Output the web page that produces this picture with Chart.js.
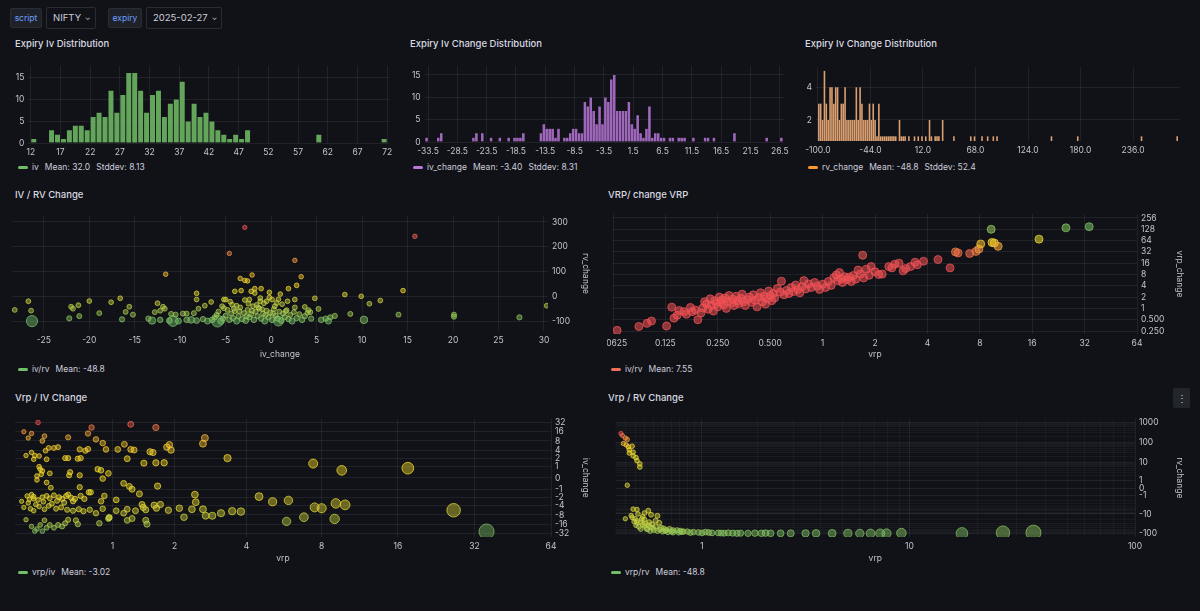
<!DOCTYPE html>
<html>
<head>
<meta charset="utf-8">
<script src="https://cdn.jsdelivr.net/npm/chart.js@4.4.1/dist/chart.umd.min.js"></script>
<style>
  html, body { margin: 0; padding: 0; background: #111217; }
  body { width: 1200px; height: 611px; overflow: hidden; position: relative; font-family: Inter, "Noto Sans", sans-serif; color: #ccccdc; }
  .title { position: absolute; font-size: 9.5px; line-height: 12px; font-weight: 500; color: #d8d9e0; white-space: nowrap; }
  .cv { position: absolute; }
  .legend { position: absolute; height: 12px; font-size: 8.5px; line-height: 12px; color: #ccccdc; white-space: nowrap; display: flex; align-items: center; }
  .legend i { display: inline-block; width: 10px; height: 3px; border-radius: 2px; margin-right: 4px; }
  .legend span { margin-right: 6px; }
  .lbl, .sel { position: absolute; box-sizing: border-box; border-radius: 2px; white-space: nowrap; }
  .lbl { top: 8px; height: 20px; line-height: 18px; font-size: 8.5px; color: #6e9fff; background: #1f2128; border: 1px solid #2a2c33; text-align: center; }
  .sel { top: 7px; height: 22px; line-height: 20px; font-size: 9.5px; color: #ccccdc; border: 1px solid #2a2c33; padding-left: 6px; }
  .sel b { font-weight: 400; font-size: 7px; margin-left: 4px; position: relative; top: -1px; }
  .menu { position: absolute; left: 1173px; top: 388px; width: 17px; height: 20px; background: #22252b; border-radius: 2px; color: #ccccdc; font-size: 10px; line-height: 20px; text-align: center; }
</style>
</head>
<body>

<div class="lbl" style="left:10px;width:32px;">script</div>
<div class="sel" style="left:46px;width:50px;">NIFTY<b>&#8964;</b></div>
<div class="lbl" style="left:108px;width:34px;">expiry</div>
<div class="sel" style="left:146px;width:76px;">2025-02-27<b>&#8964;</b></div>

<div class="title" style="left:15px;top:38px;">Expiry Iv Distribution</div>
<div class="title" style="left:410px;top:38px;">Expiry Iv Change Distribution</div>
<div class="title" style="left:805px;top:38px;">Expiry Iv Change Distribution</div>
<div class="title" style="left:15px;top:189px;">IV / RV Change</div>
<div class="title" style="left:608px;top:189px;">VRP/ change VRP</div>
<div class="title" style="left:15px;top:392px;">Vrp / IV Change</div>
<div class="title" style="left:608px;top:392px;">Vrp / RV Change</div>
<div class="menu">&#8942;</div>

<div class="cv" style="left:8px;top:58px;width:392px;height:102px;"><canvas id="h1"></canvas></div>
<div class="cv" style="left:403px;top:58px;width:392px;height:102px;"><canvas id="h2"></canvas></div>
<div class="cv" style="left:798px;top:58px;width:394px;height:102px;"><canvas id="h3"></canvas></div>
<div class="cv" style="left:4px;top:208px;width:594px;height:154px;"><canvas id="s1"></canvas></div>
<div class="cv" style="left:607px;top:208px;width:585px;height:154px;"><canvas id="s2"></canvas></div>
<div class="cv" style="left:4px;top:410px;width:594px;height:156px;"><canvas id="s3"></canvas></div>
<div class="cv" style="left:607px;top:410px;width:585px;height:156px;"><canvas id="s4"></canvas></div>

<div class="legend" style="left:18px;top:161px;"><i style="background:#73BF69"></i><span>iv</span><span>Mean: 32.0</span><span>Stddev: 8.13</span></div>
<div class="legend" style="left:413px;top:161px;"><i style="background:#B877D9"></i><span>iv_change</span><span>Mean: -3.40</span><span>Stddev: 8.31</span></div>
<div class="legend" style="left:808px;top:161px;"><i style="background:#FF9830"></i><span>rv_change</span><span>Mean: -48.8</span><span>Stddev: 52.4</span></div>
<div class="legend" style="left:18px;top:363px;"><i style="background:#73BF69"></i><span>iv/rv</span><span>Mean: -48.8</span></div>
<div class="legend" style="left:611px;top:363px;"><i style="background:#F2705A"></i><span>iv/rv</span><span>Mean: 7.55</span></div>
<div class="legend" style="left:18px;top:566px;"><i style="background:#73BF69"></i><span>vrp/iv</span><span>Mean: -3.02</span></div>
<div class="legend" style="left:611px;top:566px;"><i style="background:#73BF69"></i><span>vrp/rv</span><span>Mean: -48.8</span></div>

<script>
// ---- data: histograms (bin start, count) ----
const ivBins = [12, 15, 16, 17, 18, 19, 20, 21, 22, 23, 24, 25, 26, 27, 28, 29, 30, 31, 32, 33, 34, 35, 36, 37, 38, 39, 40, 41, 42, 43, 44, 45, 46, 47, 48, 60, 71];
const ivCounts = [1, 3, 2, 1, 3, 4, 4, 3, 6, 7, 6, 12, 7, 11, 16, 16, 12, 7, 11, 12, 6, 9, 10, 14, 5, 9, 6, 7, 5, 3, 2, 1, 2, 1, 3, 2, 1];
const ivTicks = [12, 17, 22, 27, 32, 37, 42, 47, 52, 57, 62, 67, 72];

const ivChgBins = [-34, -32, -31.5, -26, -25.5, -24.5, -23, -21.5, -20, -19, -18.5, -18, -17.5, -14.5, -14, -13.5, -13, -12.5, -12, -11.5, -10.5, -10, -9.5, -9, -8.5, -8, -7.5, -7, -6.5, -6, -5.5, -5, -4.5, -4, -3.5, -3, -2.5, -2, -1.5, -1, -0.5, 0, 0.5, 1, 1.5, 2, 2.5, 3, 3.5, 4, 4.5, 5, 5.5, 6, 6.5, 7.5, 8, 9, 9.5, 10, 11.5, 13.5, 14, 15, 18.5, 24, 26.5];
const ivChgCounts = [1, 1, 2, 1, 2, 2, 1, 1, 1, 1, 1, 1, 2, 2, 4, 3, 3, 3, 1, 3, 1, 1, 2, 3, 3, 2, 2, 9, 8, 10, 7, 4, 8, 4, 10, 9, 14, 15, 7, 7, 7, 7, 9, 4, 3, 6, 2, 1, 3, 8, 1, 2, 2, 1, 1, 1, 1, 1, 1, 1, 1, 1, 1, 1, 2, 1, 1];
const ivChgTicks = [-33.5, -28.5, -23.5, -18.5, -13.5, -8.5, -3.5, 1.5, 6.5, 11.5, 16.5, 21.5, 26.5];

const rvChgBins = [-100, -98, -96, -94, -92, -90, -88, -86, -84, -82, -80, -78, -76, -74, -72, -70, -68, -66, -64, -62, -60, -58, -56, -54, -52, -50, -48, -46, -44, -42, -40, -38, -36, -34, -32, -30, -28, -26, -24, -22, -20, -18, -14, -12, -10, -8, -4, 2, 6, 10, 14, 18, 20, 24, 26, 28, 32, 44, 62, 66, 74, 80, 86, 90, 148, 176, 244, 282];
const rvChgCounts = [3, 3, 2, 5, 3, 2, 4, 4, 3, 4, 4, 2, 3, 3, 4, 2, 2, 2, 2, 2, 4, 2, 4, 3, 2, 2, 2, 3, 2, 3, 2, 1, 3, 1, 1, 1, 1, 1, 1, 1, 1, 1, 2, 1, 1, 1, 1, 1, 1, 1, 1, 2, 1, 1, 1, 1, 2, 1, 1, 1, 1, 1, 1, 1, 1, 1, 1, 1];
const rvChgTicks = [-100, -44, 12, 68, 124, 180, 236];

// ---- data: IV / RV change  [iv_change, rv_change, vrp] ----
const ivRvPoints = [
  [-2.9, 278, 0.3], [15.8, 242, 0.4], [-4.6, 173, 0.4], [2.6, 145, 0.4], [-11.6, 89, 0.5], [-2.1, 86, 0.5],
  [3.3, 79, 0.5], [-3.4, 72, 0.5], [-2.9, 64, 0.5], [-2.6, 62, 0.5], [-8.2, 12, 0.6], [-8.2, -13, 0.6],
  [-4.0, 20, 0.6], [-3.3, 23, 0.6], [-2.2, 20, 0.6], [-1.8, 31, 0.6], [-1.1, 31, 0.6], [-1.8, 13, 0.6],
  [-0.2, 16, 0.6], [1.0, 9, 0.6], [1.9, 31, 0.6], [2.8, 44, 0.6], [8.1, 7, 0.6], [9.9, 0, 0.6],
  [14.5, 23, 0.6], [4.8, -8, 0.7], [10.8, -30, 0.7], [12.0, -17, 0.7], [30.3, -38, 0.7], [-28.2, -55, 0.8],
  [-26.7, -20, 0.7], [-26.4, -58, 0.8], [-22.2, -89, 1.2], [-22.0, -42, 0.8], [-21.8, -50, 0.8], [-21.2, -36, 0.8],
  [-21.1, -80, 1], [-20.0, -19, 0.7], [-18.9, -68, 0.9], [-17.6, -24, 0.7], [-16.6, -8, 0.7], [-16.4, -93, 1.5],
  [-16.0, -63, 0.9], [-15.6, -42, 0.8], [-15.2, -74, 1], [-12.5, -28, 0.8], [-11.9, -42, 0.8], [-11.7, -50, 0.8],
  [-12.8, -64, 0.9], [-12.2, -58, 0.9], [-11.0, -71, 1], [-10.5, -74, 1], [-9.7, -70, 1], [-9.3, -70, 1],
  [-8.5, -68, 1], [-8.0, -50, 0.8], [-7.3, -38, 0.8], [-6.6, -23, 0.7], [-5.2, -13, 0.7], [-5.0, -13, 0.7],
  [-5.4, -40, 0.8], [-4.3, -34, 0.8], [-2.4, -13, 0.7], [-1.2, -7, 0.7], [-0.5, -20, 0.7], [0.1, -13, 0.7],
  [0.6, -27, 0.8], [1.8, -20, 0.7], [2.6, -13, 0.7], [3.7, -43, 0.8], [4.1, -56, 0.9], [4.3, -64, 0.9],
  [5.2, -51, 0.9], [6.5, -85, 1.3], [7.0, -79, 1.2], [8.7, -71, 1], [14.0, -74, 1], [20.1, -74, 1],
  [20.1, -82, 1.2], [27.3, -85, 1.3], [-26.3, -100, 30], [-10.8, -100, 25], [-5.9, -100, 35], [0.8, -100, 20],
  [10.2, -95, 8], [-8.8, -95, 5], [-13.1, -98, 7],
  [-6.5, -95, 2], [-6.2, -85, 1.3], [-6.0, -75, 1], [-5.8, -62, 0.9], [-5.5, -100, 4], [-5.3, -90, 1.5],
  [-5.0, -78, 1.1], [-4.8, -55, 0.9], [-4.6, -95, 2], [-4.4, -70, 1], [-4.2, -88, 1.4], [-4.0, -60, 0.9],
  [-3.8, -100, 3], [-3.6, -80, 1.2], [-3.4, -45, 0.8], [-3.2, -92, 1.6], [-3.0, -68, 1], [-2.8, -98, 2.5],
  [-2.6, -55, 0.9], [-2.4, -85, 1.3], [-2.2, -72, 1], [-2.0, -40, 0.8], [-1.9, -95, 2], [-1.7, -62, 0.9],
  [-1.5, -80, 1.2], [-1.3, -50, 0.8], [-1.1, -90, 1.5], [-0.9, -70, 1], [-0.7, -100, 3], [-0.5, -58, 0.9],
  [-0.3, -85, 1.3], [-0.1, -66, 1], [0.1, -95, 2], [0.3, -52, 0.9], [0.5, -78, 1.1], [0.7, -90, 1.5],
  [0.9, -62, 0.9], [1.1, -98, 2.5], [1.3, -70, 1], [1.5, -84, 1.3], [1.7, -56, 0.9], [1.9, -92, 1.6],
  [2.1, -75, 1], [2.3, -100, 3], [2.5, -64, 0.9], [2.8, -88, 1.4], [3.1, -72, 1], [3.4, -95, 2],
  [3.7, -80, 1.2], [4.0, -66, 1], [4.4, -90, 1.5], [-7.0, -100, 3], [-7.5, -92, 1.6], [-8.2, -98, 2.5],
  [-9.3, -95, 2], [-10.2, -100, 3], [-12.2, -95, 2], [-13.5, -90, 1.5], [-11.2, -98, 2.5], [5.5, -95, 2],
  [6.0, -90, 1.5], [6.3, -100, 3], [-2.5, -30, 0.8], [-1.6, -35, 0.8], [-0.8, -28, 0.8], [0.4, -40, 0.8],
  [1.2, -32, 0.8], [-3.8, -38, 0.8], [-5.2, -48, 0.8], [-4.5, -22, 0.7], [-2.9, -15, 0.7], [-1.2, -20, 0.7],
  [-0.2, -5, 0.7], [0.8, -12, 0.7], [-3.5, -60, 0.9], [-1.4, -45, 0.8], [-2.1, -58, 0.9], [-0.6, -75, 1],
  [2.6, -45, 0.8], [-1.0, -52, 0.9], [-2.7, -80, 1.2], [-4.1, -50, 0.8], [0.2, -70, 1], [1.6, -60, 0.9]
];
const ivRvTicksX = [-25, -20, -15, -10, -5, 0, 5, 10, 15, 20, 25, 30];
const ivRvTicksY = [-100, 0, 100, 200, 300];

// ---- data: VRP / change VRP  [vrp, vrp_change] ----
const vrpPoints = [
  [0.066, 0.26], [0.088, 0.33], [0.098, 0.4], [0.104, 0.46], [0.127, 0.34], [0.136, 1.08], [0.14, 0.55], [0.146, 0.66],
  [0.15, 0.88], [0.16, 0.82], [0.165, 0.7], [0.174, 1.06], [0.178, 0.82], [0.186, 0.9], [0.192, 0.5], [0.2, 0.75],
  [0.205, 1.02], [0.21, 1.5], [0.215, 1.3], [0.22, 0.95], [0.226, 1.8], [0.23, 1.2], [0.236, 0.85], [0.24, 1.6],
  [0.245, 1.35], [0.25, 1.1], [0.255, 2.0], [0.26, 1.45], [0.265, 1.7], [0.27, 1.25], [0.275, 1.9], [0.28, 1.0],
  [0.285, 1.55], [0.29, 2.2], [0.3, 1.4], [0.305, 1.75], [0.31, 1.2], [0.318, 2.1], [0.325, 1.6], [0.33, 1.35],
  [0.34, 1.85], [0.345, 2.4], [0.35, 1.5], [0.36, 1.2], [0.37, 1.7], [0.38, 2.0], [0.39, 1.45], [0.4, 2.3],
  [0.41, 1.65], [0.42, 1.1], [0.43, 1.95], [0.44, 2.6], [0.45, 1.5], [0.46, 2.1], [0.47, 1.3], [0.48, 1.8],
  [0.49, 2.9], [0.5, 2.2], [0.51, 1.6], [0.52, 2.5], [0.53, 1.9], [0.55, 3.4], [0.57, 2.7], [0.58, 5.3],
  [0.6, 2.3], [0.62, 3.0], [0.64, 2.5], [0.66, 3.6], [0.68, 2.8], [0.7, 4.2], [0.72, 3.2], [0.74, 2.6],
  [0.76, 3.8], [0.78, 5.5], [0.8, 3.3], [0.83, 4.5], [0.86, 3.6], [0.9, 4.9], [0.93, 3.9], [0.96, 3.2],
  [1.0, 4.4], [1.04, 3.6], [1.08, 5.2], [1.12, 4.1], [1.16, 6.6], [1.2, 7.8], [1.22, 5.5], [1.25, 9.0],
  [1.28, 6.2], [1.3, 4.9], [1.34, 7.0], [1.38, 5.8], [1.42, 6.8], [1.46, 5.2], [1.5, 7.5], [1.55, 6.0],
  [1.6, 10.5], [1.65, 8.2], [1.7, 26], [1.72, 6.5], [1.78, 11], [1.85, 7.6], [1.9, 13], [2.0, 9.5],
  [2.1, 8.0], [2.2, 8.2], [2.4, 13], [2.5, 12], [2.6, 15], [2.75, 16], [2.9, 10], [3.0, 11.5],
  [3.2, 13], [3.4, 17], [3.5, 14.5], [3.8, 18], [4.6, 20], [5.4, 12], [5.8, 32], [6.0, 30],
  [7.0, 29], [7.6, 33], [7.9, 38], [8.1, 52], [9.3, 128], [9.4, 57], [9.7, 55], [10.2, 45],
  [17.5, 70], [25, 140], [34, 150]
];
const vrpTicksX = [0.0625, 0.125, 0.25, 0.5, 1, 2, 4, 8, 16, 32, 64];
const vrpTicksY = [0.25, 0.5, 1, 2, 4, 8, 16, 32, 64, 128, 256];

// ---- data: Vrp / IV change  [vrp, iv_change] ----
const vrpIvPoints = [
  [0.21, 32], [1.25, 28], [0.75, 22], [1.65, 22], [0.08, 16], [0.15, 14], [0.71, 14], [0.27, 11.5],
  [0.12, 10], [0.5, 10.5], [0.8, 9], [0.88, 6.8], [0.25, 8], [2.7, 10], [2.65, 6.5], [1.16, 6.2],
  [1.85, 5], [1.9, 6], [1.93, 4], [0.92, 4.2], [1.07, 4.2], [1.25, 4.2], [1.3, 4], [1.55, 3.5],
  [1.6, 3.3], [0.68, 3.8], [0.71, 4.3], [0.62, 4.2], [0.4, 5], [0.36, 4.7], [0.31, 4.7], [0.28, 3.8],
  [0.15, 3.3], [0.1, 2.6], [0.18, 2.6], [0.22, 2.5], [0.17, 1.9], [0.29, 1.9], [0.47, 2.1], [0.5, 2.1],
  [0.6, 2], [0.63, 2.1], [1.2, 2], [1.45, 1.35], [1.65, 1.4], [1.8, 1.4], [3.35, 2.1], [7.4, 1.3],
  [9.6, 0.6], [17.5, 0.8], [0.22, 0.95], [0.23, 0.7], [0.25, 0.55], [0.32, 0.35], [0.24, 0.28], [0.2, 0.15],
  [0.51, 0.2], [0.62, 0.2], [0.82, 0.7], [0.86, 0.6], [0.95, 0.35], [0.88, -0.05], [0.52, 0.45], [0.2, -0.15],
  [0.29, -0.35], [0.33, -0.8], [0.62, -0.75], [1.15, -0.42], [1.23, -0.68], [1.27, -0.95], [1.38, -1.5], [1.68, -0.65],
  [0.72, -1.3], [0.74, -1.3], [0.9, -1.8], [1.05, -2.5], [0.86, -2.8], [2.45, -1.6], [2.47, -3], [4.5, -1.9],
  [5.1, -2.9], [5.9, -2.6], [7.5, -4.5], [8, -4.8], [9.1, -3.3], [9.9, -3.7], [26.5, -5.6], [9, -10.8],
  [5.8, -13], [6.8, -9.5], [35.7, -28], [0.06, -2.8], [0.11, -1.8], [0.15, -1.6], [0.17, -1.9], [0.17, -2.3],
  [0.21, -2.5], [0.25, -2], [0.29, -1.8], [0.32, -2.2], [0.36, -1.7], [0.41, -2], [0.44, -2.3], [0.48, -1.8],
  [0.5, -1.6], [0.53, -2.1], [0.57, -2.3], [0.63, -1.8], [0.67, -2.3], [0.08, -4.5], [0.14, -5], [0.17, -5.8],
  [0.22, -4.2], [0.27, -5.2], [0.31, -4], [0.38, -5], [0.43, -4.5], [0.49, -5.4], [0.55, -5.8], [0.61, -5.2],
  [0.66, -6], [0.73, -5.4], [0.8, -7], [0.88, -5], [0.96, -9.5], [1.05, -5.8], [1.15, -7], [1.2, -5.2],
  [1.32, -5.8], [1.42, -3.6], [1.44, -4.5], [1.48, -5.4], [1.62, -3.8], [1.66, -4.8], [1.73, -3.6], [1.88, -5.6],
  [2.1, -4.8], [2.2, -9.5], [2.38, -5.2], [2.65, -5.2], [2.72, -8.5], [2.9, -8.5], [3.15, -7], [3.5, -6],
  [3.8, -6.2], [1.48, -12], [1.5, -16], [1.2, -12], [1.27, -10.5], [0.84, -15], [0.95, -10.5], [0.96, -10],
  [0.58, -12], [0.5, -11.5], [0.47, -15], [0.4, -17], [0.36, -21], [0.29, -21], [0.23, -17], [0.2, -23],
  [0.15, -19], [0.1, -11.5], [0.27, -12], [0.32, -17], [0.44, -19], [0.6, -16], [0.18, -27], [0.25, -27],
  [0.12, -3.2], [0.19, -3.6], [0.26, -2.9], [0.34, -3.4], [0.39, -2.7], [0.46, -3.1], [0.55, -2.8], [0.13, -2.4]
];
const vrpIvTicksX = [1, 2, 4, 8, 16, 32, 64];
const vrpIvTicksY = [-32, -16, -8, -4, -2, -1, 0, 1, 2, 4, 8, 16, 32];

// ---- data: Vrp / RV change  [vrp, rv_change] ----
const vrpRvPoints = [
  [0.055, 280], [0.07, 220], [0.1, 165], [0.12, 140], [0.08, 88], [0.11, 74], [0.13, 60], [0.17, 64],
  [0.14, 42], [0.14, 29], [0.18, 32], [0.18, 21], [0.21, 17], [0.22, 12], [0.25, 8.3], [0.25, 5.7],
  [0.12, 0.34], [0.18, -5.7], [0.22, -6], [0.34, -6.8], [0.16, -12], [0.17, -15], [0.2, -17.5], [0.22, -22],
  [0.22, -28], [0.26, -26], [0.28, -34], [0.3, -19], [0.34, -37], [0.36, -45], [0.38, -33], [0.42, -43],
  [0.46, -28], [0.48, -50], [0.51, -54], [0.54, -64], [0.58, -58], [0.62, -67], [0.67, -67], [0.71, -72],
  [0.75, -77], [0.8, -77], [0.88, -82], [0.95, -85], [1.05, -82], [1.15, -90], [1.25, -90], [1.35, -93],
  [1.5, -93], [1.65, -93], [1.8, -95], [2.1, -95], [2.33, -95], [2.6, -95], [2.9, -95], [3.4, -95],
  [3.8, -95], [4.5, -95], [5.3, -95], [6.0, -96], [6.7, -96], [7.4, -96], [7.9, -96], [9.2, -92],
  [17.1, -96], [26, -88], [35.5, -88], [0.3, -9], [0.37, -11], [0.44, -12.5], [0.1, -17.5], [0.28, -14],
  [0.23, -10], [0.32, -54], [0.4, -64], [0.26, -58], [0.36, -72], [0.44, -72], [0.5, -77], [0.56, -82],
  [0.62, -85], [0.69, -85], [0.21, -37], [0.42, -22], [0.24, -45], [0.3, -40], [0.33, -60], [0.39, -50],
  [0.47, -62], [0.53, -70], [0.6, -75], [0.73, -80], [0.84, -88], [1.0, -90], [1.1, -86], [1.3, -92],
  [1.42, -90], [1.58, -95], [1.95, -93], [2.2, -92], [0.19, -24], [0.27, -18], [0.35, -26], [0.31, -30]
];
const vrpRvTicksX = [1, 10, 100];
const vrpRvMinorX = [0.1, 0.2, 0.3, 0.4, 0.5, 0.6, 0.7, 0.8, 0.9, 2, 3, 4, 5, 6, 7, 8, 9, 20, 30, 40, 50, 60, 70, 80, 90];
const vrpRvTicksY = [-100, -10, -1, 0, 1, 10, 100, 1000];
const vrpRvMinorY = [-90, -80, -70, -60, -50, -40, -30, -20, -9, -8, -7, -6, -5, -4, -3, -2, 2, 3, 4, 5, 6, 7, 8, 9, 20, 30, 40, 50, 60, 70, 80, 90, 200, 300, 400, 500, 600, 700, 800, 900];

// ---- symmetric log (asinh) scale, like the dashboard's symlog axes ----
class AsinhScale extends Chart.Scale {
  parse(raw) { return raw === null || raw === undefined ? null : +raw; }
  determineDataLimits() {
    const mm = this.getMinMax(true);
    this.min = this.options.min != null ? this.options.min : mm.min;
    this.max = this.options.max != null ? this.options.max : mm.max;
  }
  tf(v) { return Math.asinh(v) / Math.log(this.options.base || 10); }
  itf(t) { return Math.sinh(t * Math.log(this.options.base || 10)); }
  buildTicks() { return []; }
  configure() {
    super.configure();
    this._tMin = this.tf(this.min);
    this._tMax = this.tf(this.max);
  }
  getLabelForValue(v) { return String(v); }
  getPixelForValue(v) {
    return this.getPixelForDecimal((this.tf(v) - this._tMin) / (this._tMax - this._tMin));
  }
  getValueForPixel(p) {
    return this.itf(this._tMin + this.getDecimalForPixel(p) * (this._tMax - this._tMin));
  }
}
AsinhScale.id = 'asinh';
AsinhScale.defaults = {};
Chart.register(AsinhScale);

Chart.defaults.font.family = 'Inter, "Noto Sans", sans-serif';
Chart.defaults.font.size = 8.5;
Chart.defaults.color = '#c4c4ce';
Chart.defaults.animation = false;
Chart.defaults.plugins.legend.display = false;
Chart.defaults.plugins.tooltip.enabled = false;
Chart.defaults.responsive = true;
Chart.defaults.maintainAspectRatio = false;

const GRID = 'rgba(204,204,220,0.09)';
const GRID_MINOR = 'rgba(204,204,220,0.045)';
const TICK_COLOR = '#c4c4ce';

// size: fixed thickness of the axis box, so the plot areas line up with the dashboard
function axis(type, min, max, major, fmt, size, extra, minor) {
  const list = major.map(v => ({ value: v, major: true }))
    .concat((minor || []).map(v => ({ value: v, major: false })))
    .sort((a, b) => a.value - b.value);
  return Object.assign({
    type, min, max,
    offset: false,
    grid: { color: c => (c.tick && c.tick.major === false) ? GRID_MINOR : GRID, drawTicks: false, offset: false },
    border: { display: false },
    ticks: {
      color: TICK_COLOR, padding: 4, maxRotation: 0, autoSkip: false, font: { size: 8.5 },
      callback: (v, i, t) => (t[i] && t[i].major === false) ? '' : fmt(v)
    },
    afterBuildTicks: s => { s.ticks = list.map(t => ({ value: t.value, major: t.major })); },
    afterFit: s => {
      if (s.isHorizontal()) s.height = size; else s.width = size;
      s.paddingLeft = s.paddingRight = s.paddingTop = s.paddingBottom = 0;
    }
  }, extra || {});
}

function axisTitle(text) {
  return { display: true, text, color: TICK_COLOR, font: { size: 8.5 }, padding: { top: 2, bottom: 2 } };
}

const str = v => String(v);
const fmtSmall = v => v >= 1 ? String(v) : (String(v).length > 5 ? String(v) : v.toFixed(3));

// Green-Yellow-Red continuous colour scheme
function gyr(t, a) {
  t = Math.max(0, Math.min(1, t));
  const G = [115, 191, 105], Y = [250, 222, 42], R = [242, 82, 86];
  const [p, q, k] = t < 0.5 ? [G, Y, t * 2] : [Y, R, (t - 0.5) * 2];
  const c = p.map((x, i) => Math.round(x + (q[i] - x) * k));
  return `rgba(${c[0]},${c[1]},${c[2]},${a})`;
}

function histogram(id, bins, counts, width, fill, border, barPct, xr, xTicks, xFmt, yr, yTicks, pad, yW, xH) {
  new Chart(document.getElementById(id), {
    type: 'bar',
    data: {
      datasets: [{
        data: bins.map((b, i) => ({ x: b + width / 2, y: counts[i] })),
        backgroundColor: fill,
        borderColor: 'rgba(17,18,23,0.4)',
        borderWidth: border,
        barPercentage: barPct,
        categoryPercentage: 1
      }]
    },
    options: {
      layout: { padding: pad },
      scales: {
        x: axis('linear', xr[0], xr[1], xTicks, xFmt, xH),
        y: axis('linear', yr[0], yr[1], yTicks, str, yW, { beginAtZero: false })
      }
    }
  });
}

histogram('h1', ivBins, ivCounts, 1, 'rgba(115,191,105,0.85)', 0.8, 1, [11.6, 72.4], ivTicks, str,
  [0, 17.5], [0, 5, 10, 15], { top: 8, right: 10.5, left: 0, bottom: 0 }, 20.4, 17);
histogram('h2', ivChgBins, ivChgCounts, 0.5, 'rgba(184,119,217,0.85)', 0.5, 1, [-34.1, 27.2], ivChgTicks, str,
  [0, 17], [0, 5, 10, 15], { top: 8, right: 11, left: 0, bottom: 0 }, 21.5, 18);
histogram('h3', rvChgBins, rvChgCounts, 2, 'rgba(255,184,128,0.85)', 0, 0.85, [-102, 286], rvChgTicks, v => v.toFixed(1),
  [0.716, 5.24], [2, 4], { top: 9, right: 12, left: 0, bottom: 0 }, 18, 19);

function scatter(id, points, colorOf, radiusOf, xScale, yScale, pad, alpha) {
  new Chart(document.getElementById(id), {
    type: 'scatter',
    data: {
      datasets: [{
        data: points.map(p => ({ x: p[0], y: p[1], v: p[2] })),
        pointRadius: c => radiusOf(c.raw),
        backgroundColor: c => colorOf(c.raw, alpha),
        borderColor: c => colorOf(c.raw, 0.75),
        borderWidth: 1
      }]
    },
    options: {
      layout: { padding: pad },
      scales: { x: xScale, y: yScale }
    }
  });
}

const rvColor = (r, a) => gyr(Math.pow((r.y + 100) / 380, 0.7), a);

scatter('s1', ivRvPoints, rvColor, r => 1.8 + 0.7 * Math.sqrt(r.v),
  axis('linear', -28.5, 30.44, ivRvTicksX, str, 31, { title: axisTitle('iv_change') }),
  axis('linear', -140, 324, ivRvTicksY, str, 45, { position: 'right', title: axisTitle('rv_change') }),
  { top: 8, left: 8, right: 5, bottom: 0 }, 0.45);

scatter('s2', vrpPoints, (r, a) => gyr(1 - Math.max(0, (Math.log2(r.y) - 4.6) / 2.7), a), () => 4,
  axis('logarithmic', 0.0625, 64, vrpTicksX, fmtSmall, 28, { title: axisTitle('vrp') }),
  axis('logarithmic', 0.208, 327, vrpTicksY, fmtSmall, 50, { position: 'right', title: axisTitle('vrp_change') }),
  { top: 6, left: 6, right: 5, bottom: 0 }, 0.55);

scatter('s3', vrpIvPoints, (r, a) => gyr((r.y + 30) / 62, a), r => 1.9 + 0.95 * Math.sqrt(r.x),
  axis('asinh', 0, 64, vrpIvTicksX, str, 29, { base: 2, title: axisTitle('vrp') }),
  axis('asinh', -42, 43, vrpIvTicksY, str, 42, { base: 2, position: 'right', title: axisTitle('iv_change') }),
  { top: 6, left: 11, right: 5, bottom: 0 }, 0.42);

scatter('s4', vrpRvPoints, rvColor, r => 1.9 + 0.95 * Math.sqrt(r.x),
  axis('asinh', 0, 100, vrpRvTicksX, str, 29, { base: 10, title: axisTitle('vrp') }, vrpRvMinorX),
  axis('asinh', -145, 1580, vrpRvTicksY, str, 52, { base: 10, position: 'right', title: axisTitle('rv_change') }, vrpRvMinorY),
  { top: 6, left: 6, right: 5, bottom: 0 }, 0.45);
</script>
</body>
</html>
